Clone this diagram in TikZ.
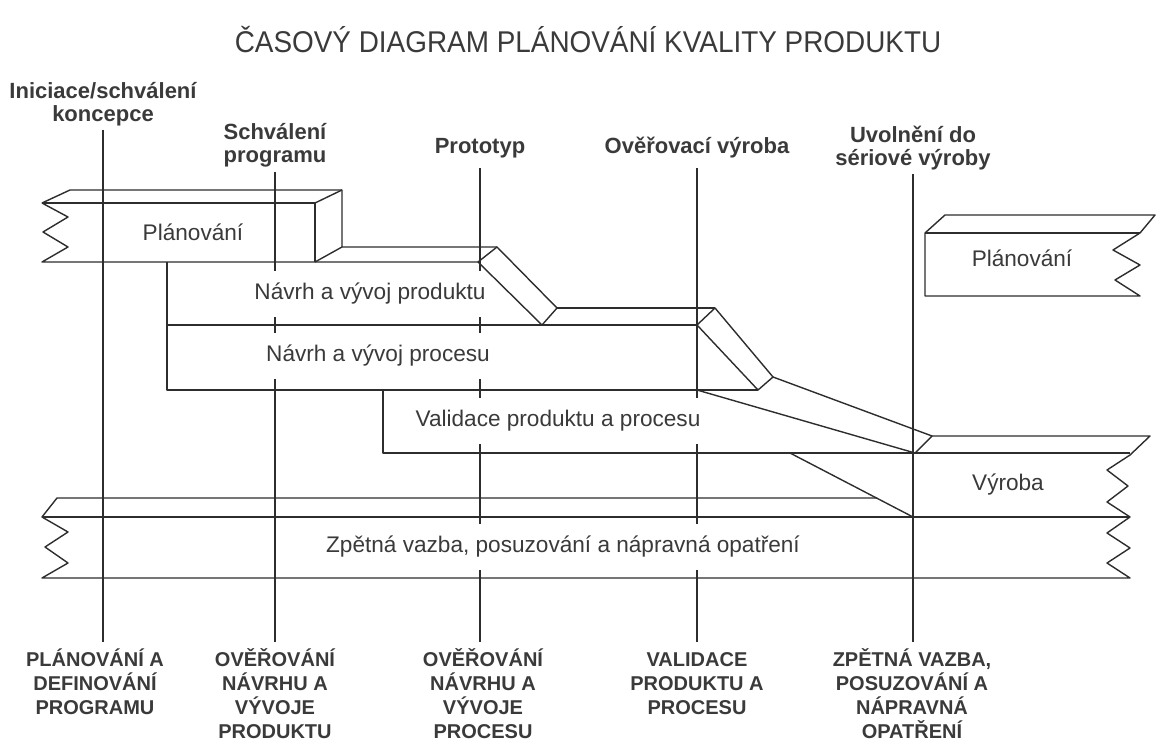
\documentclass[tikz,border=0pt]{standalone}
\usepackage{fontspec}
\setmainfont{Liberation Sans}
\usetikzlibrary{positioning}
\definecolor{linegray}{RGB}{45,45,45}
\definecolor{textgray}{RGB}{58,58,58}

\begin{document}
\begin{tikzpicture}[x=0.5pt, y=-0.5pt,
    band/.style={draw=linegray, line width=0.7pt, line join=round},
    mline/.style={draw=linegray, line width=0.7pt},
    boxtext/.style={fill=white, text=textgray, font=\fontsize{11.3}{13}\selectfont, inner xsep=3pt, inner ysep=6pt},
    milestone/.style={text=textgray, font=\bfseries\fontsize{11}{11.5}\selectfont, align=center, inner sep=2pt, anchor=south},
    phase/.style={text=textgray, font=\bfseries\fontsize{10}{12}\selectfont, align=center, inner sep=3pt, anchor=north}]
\useasboundingbox (0,0) rectangle (1156,743);

\node[text=textgray, font=\fontsize{15}{17}\selectfont] (title) at (588,40) {\scalebox{0.93}[1]{ČASOVÝ DIAGRAM PLÁNOVÁNÍ KVALITY PRODUKTU}};

\node[milestone] (ms1) at (103,130) {Iniciace/schválení\\koncepce};
\node[milestone] (ms2) at (275,172) {Schválení\\programu};
\node[milestone, inner ysep=5pt] (ms3) at (480,168) {Prototyp};
\node[milestone, inner ysep=5pt] (ms4) at (697,168) {Ověřovací výroba};
\node[milestone] (ms5) at (913,174) {Uvolnění do\\sériové výroby};

\node[phase] (ph1) at (95,642) {PLÁNOVÁNÍ A\\DEFINOVÁNÍ\\PROGRAMU};
\node[phase] (ph2) at (275,642) {OVĚŘOVÁNÍ\\NÁVRHU A\\VÝVOJE\\PRODUKTU};
\node[phase] (ph3) at (483,642) {OVĚŘOVÁNÍ\\NÁVRHU A\\VÝVOJE\\PROCESU};
\node[phase] (ph4) at (697,642) {\vphantom{Ě}VALIDACE\\PRODUKTU A\\PROCESU};
\node[phase] (ph5) at (912,642) {ZPĚTNÁ VAZBA,\\POSUZOVÁNÍ A\\NÁPRAVNÁ\\OPATŘENÍ};

\foreach \i in {1,...,5}
  \draw[mline] (ms\i.south) -- (ms\i.south |- ph\i.north);

% band labels (white behind the text hides the milestone lines)
\node[boxtext] (plan1) at (193,232) {Plánování};
\node[boxtext] (proddes) at (370,294) {Návrh a vývoj produktu};
\node[boxtext] (procdes) at (378,356) {Návrh a vývoj procesu};
\node[boxtext] (valid) at (558,421) {Validace produktu a procesu};
\node[boxtext] (prodn) at (1008,485) {Výroba};
\node[boxtext] (fback) at (563,547) {Zpětná vazba, posuzování a nápravná opatření};
\node[boxtext] (plan2) at (1022,258) {Plánování};

% planning, left
\draw[band] (42,203) -- (68,217) -- (43,232) -- (68,247) -- (42,262) -- (478,262);
\draw[band] (42,203) -- (70,190) -- (342,190) -- (342,247) -- (497,247);
\draw[band] (42,203) -- (315,203) -- (315,262);
\draw[band] (315,203) -- (342,190);
\draw[band] (315,262) -- (342,247);
% product and process design
\draw[band] (478,262) -- (497,247) -- (557,308) -- (542,325) -- cycle;
\draw[band] (557,308) -- (715,308);
\draw[band] (167,262) -- (167,390) -- (758,390);
\draw[band] (167,325) -- (697,325);
\draw[band] (697,325) -- (715,308) -- (773,377) -- (758,390) -- cycle;
\draw[band] (697,390) -- (915,453) -- (932,436) -- (773,377);
% validation
\draw[band] (383,390) -- (383,453) -- (1130,453);
% production and feedback
\draw[band] (932,436) -- (1150,436) -- (1130,455) -- (1107,470) -- (1128,486) -- (1107,502)
  -- (1130,517) -- (1107,533) -- (1130,548) -- (1107,563) -- (1130,578) -- (42,578)
  -- (68,563) -- (45,547) -- (68,532) -- (42,517) -- (57,498) -- (877,498);
\draw[band] (42,517) -- (1130,517);
\draw[band] (790,453) -- (913,517);
% planning, right
\draw[band] (925,296) -- (925,233) -- (945,215) -- (1155,215) -- (1140,233) -- (1113,250)
  -- (1140,265) -- (1115,280) -- (1140,296) -- cycle;
\draw[band] (925,233) -- (1140,233);
\end{tikzpicture}
\end{document}
